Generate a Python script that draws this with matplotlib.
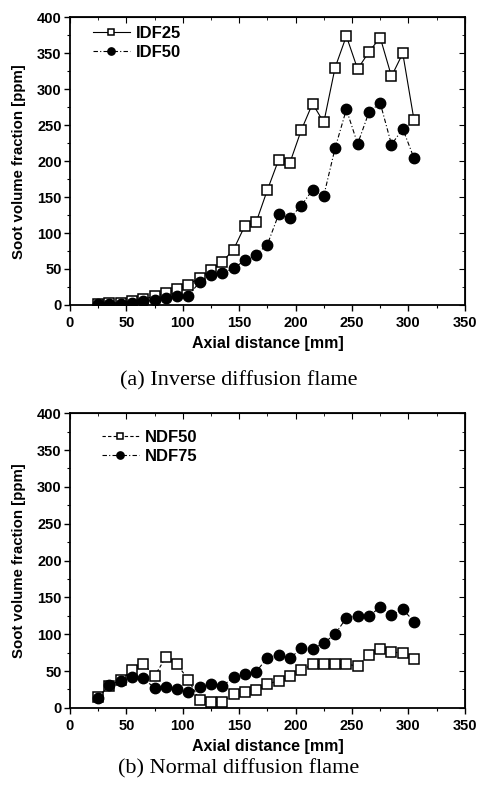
import matplotlib
matplotlib.use('Agg')
import matplotlib.pyplot as plt
from matplotlib.ticker import MultipleLocator

# 轴向位置 (mm)
axial = [25, 35, 45, 55, 65, 75, 85, 95, 105, 115, 125, 135, 145, 155, 165,
         175, 185, 195, 205, 215, 225, 235, 245, 255, 265, 275, 285, 295, 305]

# (a) 逆扩散火焰
idf25 = [2, 3, 3, 5, 8, 12, 17, 22, 28, 38, 48, 60, 77, 110, 115,
         160, 202, 198, 243, 280, 254, 330, 374, 328, 352, 372, 318, 350, 257]
idf50 = [1, 2, 2, 3, 5, 7, 9, 12, 13, 32, 42, 44, 51, 62, 70,
         84, 126, 121, 138, 160, 152, 218, 272, 224, 268, 281, 223, 245, 204]

# (b) 正扩散火焰
ndf50 = [15, 30, 38, 51, 60, 43, 69, 59, 38, 10, 8, 8, 19, 21, 24,
         32, 37, 43, 51, 59, 59, 59, 59, 57, 72, 80, 76, 74, 66]
ndf75 = [14, 31, 37, 42, 40, 27, 28, 26, 21, 28, 33, 29, 42, 46, 49,
         68, 72, 67, 81, 80, 88, 100, 122, 125, 124, 137, 126, 134, 117]

plt.rcParams['font.family'] = ['Liberation Sans', 'DejaVu Sans']
plt.rcParams['font.weight'] = 'bold'

fig = plt.figure(figsize=(4.78, 7.9), dpi=100)
ax1 = fig.add_axes([0.1464, 0.614, 0.826, 0.364])
ax2 = fig.add_axes([0.1464, 0.104, 0.826, 0.373])


def style_axes(ax):
    ax.set_xlim(0, 350)
    ax.set_ylim(0, 400)
    ax.xaxis.set_major_locator(MultipleLocator(50))
    ax.xaxis.set_minor_locator(MultipleLocator(25))
    ax.yaxis.set_major_locator(MultipleLocator(50))
    ax.yaxis.set_minor_locator(MultipleLocator(25))
    ax.tick_params(which='major', direction='out', length=4, width=1,
                   labelsize=10.5, pad=2)
    ax.tick_params(axis='x', which='major', pad=4)
    ax.tick_params(which='minor', direction='out', length=2, width=0.8)
    for lab in ax.get_xticklabels() + ax.get_yticklabels():
        lab.set_fontweight('bold')
    # 顶部和右侧向内的刻度
    top = ax.secondary_xaxis('top')
    top.xaxis.set_major_locator(MultipleLocator(50))
    top.xaxis.set_minor_locator(MultipleLocator(25))
    top.tick_params(which='major', direction='in', length=4, labeltop=False)
    top.tick_params(which='minor', direction='in', length=2)
    right = ax.secondary_yaxis('right')
    right.yaxis.set_major_locator(MultipleLocator(50))
    right.yaxis.set_minor_locator(MultipleLocator(25))
    right.tick_params(which='major', direction='in', length=4, labelright=False)
    right.tick_params(which='minor', direction='in', length=2)
    for s in ax.spines.values():
        s.set_linewidth(1.3)
    ax.set_xlabel('Axial distance [mm]', fontsize=11.5, fontweight='bold', labelpad=4)
    ax.set_ylabel('Soot volume fraction [ppm]', fontsize=10.8, fontweight='bold', labelpad=8)


ax1.plot(axial, idf25, color='black', lw=0.8, ls='-', marker='s', ms=7,
         mfc='white', mec='black', mew=1.1, label='IDF25')
ax1.plot(axial, idf50, color='black', lw=0.8, ls=(0, (4, 2, 1, 2)), marker='o', ms=7.5,
         mfc='black', mec='black', label='IDF50')
style_axes(ax1)
ax1.legend(loc='upper left', bbox_to_anchor=(0.041, 0.993), frameon=False,
           handlelength=2.2, handletextpad=0.4, labelspacing=0.25,
           markerscale=0.7, borderaxespad=0, prop={'weight': 'bold', 'size': 12})

ax2.plot(axial, ndf50, color='black', lw=0.8, ls=(0, (3, 2)), marker='s', ms=7,
         mfc='white', mec='black', mew=1.1, label='NDF50')
ax2.plot(axial, ndf75, color='black', lw=0.8, ls=(0, (4, 2, 1, 2)), marker='o', ms=7.5,
         mfc='black', mec='black', label='NDF75')
style_axes(ax2)
ax2.legend(loc='upper left', bbox_to_anchor=(0.064, 0.966), frameon=False,
           handlelength=2.2, handletextpad=0.4, labelspacing=0.25,
           markerscale=0.7, borderaxespad=0, prop={'weight': 'bold', 'size': 12})

fig.text(0.5, 1 - 381 / 790, '(a) Inverse diffusion flame', ha='center', va='center',
         fontsize=16, family='Liberation Serif', fontweight='normal')
fig.text(0.5, 1 - 769 / 790, '(b) Normal diffusion flame', ha='center', va='center',
         fontsize=16, family='Liberation Serif', fontweight='normal')

fig.savefig('out.png', dpi=100)
